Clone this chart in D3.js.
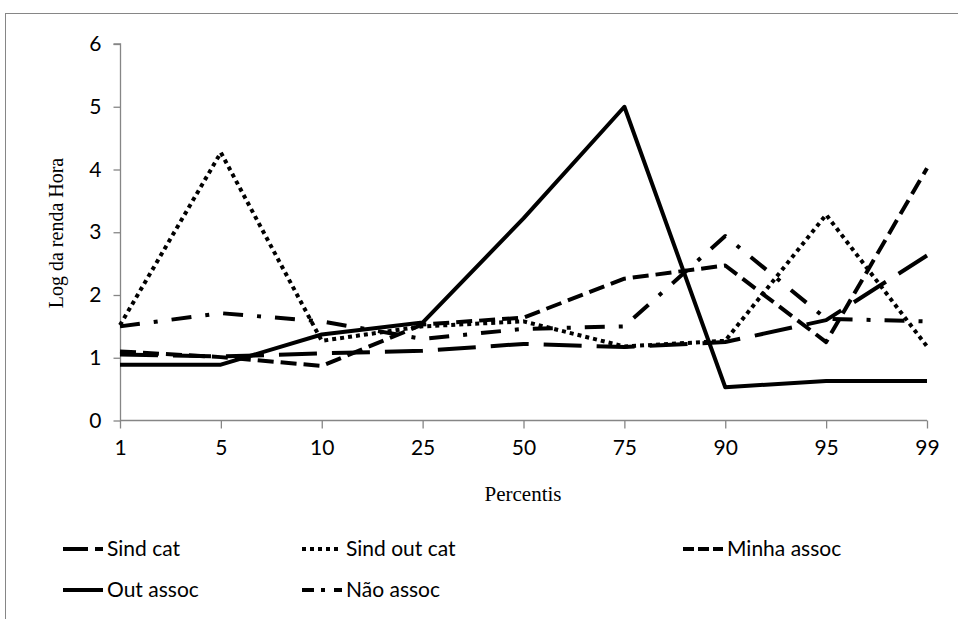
<!DOCTYPE html>
<html>
<head>
<meta charset="utf-8">
<script src="https://cdn.jsdelivr.net/npm/d3@7"></script>
<style>
  html, body { margin: 0; padding: 0; background: #fff; }
  svg { display: block; }
</style>
</head>
<body>
<svg id="chart" width="958" height="619"></svg>
<script>
// Percentile categories on the horizontal axis
const percentis = ["1", "5", "10", "25", "50", "75", "90", "95", "99"];

// Log of hourly income per percentile, one array per group
const sindCat    = [1.05, 1.02, 1.07, 1.11, 1.22, 1.17, 1.25, 1.60, 2.63];
const sindOutCat = [1.52, 4.27, 1.27, 1.50, 1.58, 1.18, 1.27, 3.28, 1.18];
const minhaAssoc = [1.10, 1.01, 0.87, 1.53, 1.64, 2.26, 2.47, 1.25, 4.02];
const outAssoc   = [0.89, 0.89, 1.37, 1.56, 3.22, 5.00, 0.53, 0.63, 0.63];
const naoAssoc   = [1.50, 1.71, 1.58, 1.30, 1.46, 1.50, 2.94, 1.62, 1.58];

const yTicks = [0, 1, 2, 3, 4, 5, 6];

const seriesNames = ["Sind cat", "Sind out cat", "Minha assoc", "Out assoc", "Não assoc"];
const seriesValues = [sindCat, sindOutCat, minhaAssoc, outAssoc, naoAssoc];

// Line styles per series: dash pattern in the plot and in the legend sample
const styles = [
  { dash: "38,15",        legendDash: "25,7,8,30" },
  { dash: "4,4",          legendDash: "4,4" },
  { dash: "16,7",         legendDash: "11,4,11,4,11,4,4,20" },
  { dash: null,           legendDash: null },
  { dash: "20,14,4,14",   legendDash: "12,7,4,9,12" }
];

const svg = d3.select("#chart");
const axisColor = "#868686";

// Outer chart frame
svg.append("rect")
  .attr("x", 5.5).attr("y", 13.5)
  .attr("width", 1200).attr("height", 900)
  .attr("fill", "none")
  .attr("stroke", axisColor)
  .attr("stroke-width", 1);

const x = d3.scalePoint().domain(percentis).range([120, 927]).padding(0);
const y = d3.scaleLinear().domain([0, 6]).range([420.5, 44]);

// Y axis
const yAxis = svg.append("g")
  .attr("transform", "translate(120.5,0)")
  .call(d3.axisLeft(y).tickValues(yTicks).tickSize(7).tickPadding(12).tickFormat(d3.format("d")));
yAxis.select(".domain").attr("stroke", axisColor).attr("stroke-width", 1.3)
  .attr("d", `M-7,${y(6)}H0V${y(0)}`);
yAxis.selectAll(".tick line").attr("stroke", axisColor).attr("stroke-width", 1.3);
yAxis.selectAll(".tick text")
  .attr("font-family", "Lato, 'Open Sans', sans-serif")
  .attr("font-size", 21).attr("fill", "#000");

// X axis
const xAxis = svg.append("g")
  .attr("transform", `translate(0,${y(0)})`)
  .call(d3.axisBottom(x).tickSize(8).tickPadding(12));
xAxis.select(".domain").attr("stroke", axisColor).attr("stroke-width", 1.3)
  .attr("d", `M120,0H927`);
xAxis.selectAll(".tick line").attr("stroke", axisColor).attr("stroke-width", 1.3);
xAxis.selectAll(".tick text")
  .attr("font-family", "Lato, 'Open Sans', sans-serif")
  .attr("font-size", 21).attr("fill", "#000");

// Axis titles
svg.append("text")
  .attr("x", 523).attr("y", 501)
  .attr("text-anchor", "middle")
  .attr("font-family", "'Liberation Serif', 'DejaVu Serif', serif")
  .attr("font-size", 21)
  .text("Percentis");

svg.append("text")
  .attr("transform", "translate(63,233) rotate(-90)")
  .attr("text-anchor", "middle")
  .attr("font-family", "'Liberation Serif', 'DejaVu Serif', serif")
  .attr("font-size", 20)
  .text("Log da renda Hora");

// Series lines
const line = d3.line()
  .x((d, i) => x(percentis[i]))
  .y(d => y(d));

seriesValues.forEach((vals, k) => {
  svg.append("path")
    .datum(vals)
    .attr("d", line)
    .attr("fill", "none")
    .attr("stroke", "#000")
    .attr("stroke-width", 4)
    .attr("stroke-linejoin", "round")
    .attr("stroke-dasharray", styles[k].dash);
});

// Legend
const legendPos = [
  { x: 63, y: 549 }, { x: 302, y: 549 }, { x: 683, y: 549 },
  { x: 63, y: 590 }, { x: 302, y: 590 }
];
seriesNames.forEach((name, k) => {
  const p = legendPos[k];
  svg.append("line")
    .attr("x1", p.x).attr("x2", p.x + 40)
    .attr("y1", p.y).attr("y2", p.y)
    .attr("stroke", "#000").attr("stroke-width", 4)
    .attr("stroke-dasharray", styles[k].legendDash);
  svg.append("text")
    .attr("x", p.x + 44).attr("y", p.y)
    .attr("dy", "0.35em")
    .attr("font-family", "Lato, 'Open Sans', sans-serif")
    .attr("font-size", 21)
    .text(name);
});
</script>
</body>
</html>
